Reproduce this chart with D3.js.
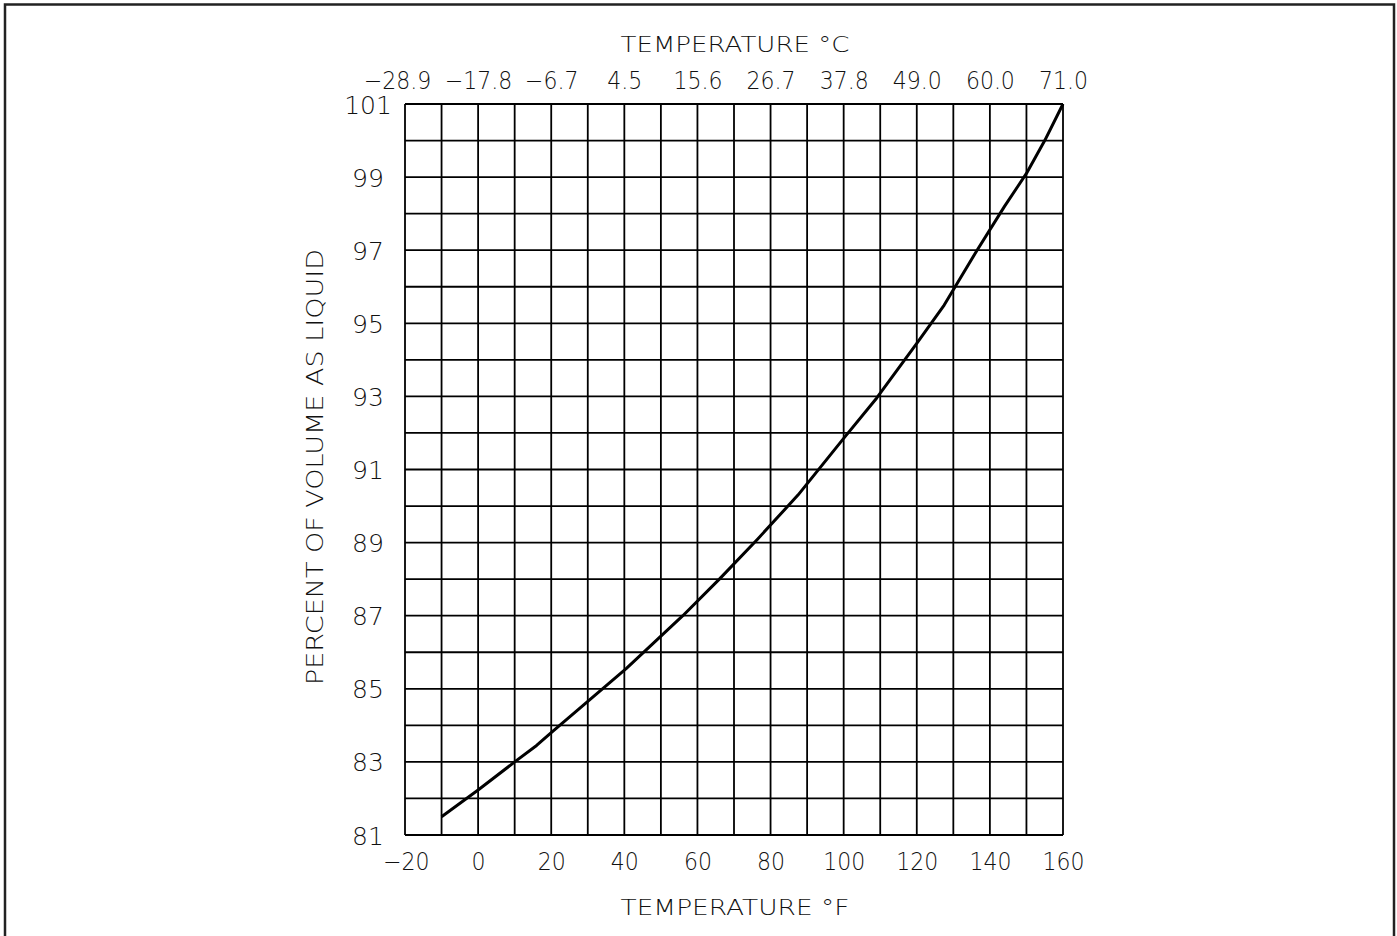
<!DOCTYPE html>
<html>
<head>
<meta charset="utf-8">
<script src="https://cdn.jsdelivr.net/npm/d3@7"></script>
<style>
  html, body { margin: 0; padding: 0; background: #fff; }
  svg { display: block; }
  text { font-family: "DejaVu Sans", sans-serif; font-weight: 200; fill: #111; }
</style>
</head>
<body>
<script>
// ---- data ----
const tempF = [-10, 0, 10, 16, 20, 40.5, 56, 66, 76.5, 87.5, 100, 109, 120, 127.5, 136.5, 144, 150, 155, 160];
const volumePct = [81.5, 82.23, 83.0, 83.45, 83.8, 85.55, 87.0, 88.0, 89.1, 90.3, 91.85, 92.95, 94.45, 95.5, 97.0, 98.2, 99.1, 100.0, 101.0];
const fTicks = [-20, 0, 20, 40, 60, 80, 100, 120, 140, 160];
const cTickLabels = ["−28.9", "−17.8", "−6.7", "4.5", "15.6", "26.7", "37.8", "49.0", "60.0", "71.0"];
const yTicks = [81, 83, 85, 87, 89, 91, 93, 95, 97, 99, 101];
const xTitle = "TEMPERATURE °F";
const topTitle = "TEMPERATURE °C";
const yTitle = "PERCENT OF VOLUME AS LIQUID";

const W = 1397, H = 936;
const svg = d3.select("body").append("svg").attr("width", W).attr("height", H);

// page frame
svg.append("rect").attr("x", 5).attr("y", 4.5).attr("width", 1389).attr("height", 960)
  .attr("fill", "none").attr("stroke", "#222").attr("stroke-width", 2.5);

const L = 405, R = 1063, T = 104, B = 835;
const x = d3.scaleLinear().domain([-20, 160]).range([L, R]);
const y = d3.scaleLinear().domain([81, 101]).range([B, T]);

// grid
const g = svg.append("g");
g.selectAll("line.v").data(d3.range(-20, 161, 10)).join("line")
  .attr("x1", d => x(d)).attr("x2", d => x(d)).attr("y1", T).attr("y2", B)
  .attr("stroke", "#000").attr("stroke-width", 1.8);
g.selectAll("line.h").data(d3.range(81, 101.5, 1)).join("line")
  .attr("y1", d => y(d)).attr("y2", d => y(d)).attr("x1", L).attr("x2", R)
  .attr("stroke", "#000").attr("stroke-width", 1.8);

const SQ = "scale(0.88,1)";

// bottom axis labels
const bottomAxis = d3.axisBottom(x).tickValues(fTicks).tickSize(0).tickPadding(0)
  .tickFormat(d => d < 0 ? "−" + Math.abs(d) : String(d));
const ba = svg.append("g").attr("transform", `translate(0,${B})`).call(bottomAxis);
ba.select(".domain").remove();
ba.selectAll("text").attr("dy", null).attr("y", 35).attr("transform", SQ).style("font-size", "25px");
ba.selectAll("text").filter((d, i) => i === 0).attr("x", 1);

// top axis labels (°C)
const topAxis = d3.axisTop(x).tickValues(fTicks).tickSize(0).tickPadding(0)
  .tickFormat((d, i) => cTickLabels[i]);
const ta = svg.append("g").attr("transform", `translate(0,${T})`).call(topAxis);
ta.select(".domain").remove();
ta.selectAll("text").attr("dy", null).attr("y", -15).attr("transform", SQ).style("font-size", "25px");
ta.selectAll("text").filter((d, i) => i === 0).attr("x", -9);

// left axis labels
const leftAxis = d3.axisLeft(y).tickValues(yTicks).tickSize(0).tickPadding(0);
const la = svg.append("g").attr("transform", `translate(${L - 37},0)`).call(leftAxis);
la.select(".domain").remove();
la.selectAll("text").attr("x", 0).attr("dy", "0.36em").attr("text-anchor", "middle").style("font-size", "25px");

// titles
svg.append("text").attr("x", 735).attr("y", 52).attr("text-anchor", "middle")
  .style("font-size", "21px").attr("textLength", 229).attr("lengthAdjust", "spacingAndGlyphs").text(topTitle);
svg.append("text").attr("x", 735).attr("y", 915).attr("text-anchor", "middle")
  .style("font-size", "21px").attr("textLength", 229).attr("lengthAdjust", "spacingAndGlyphs").text(xTitle);
svg.append("text").attr("transform", "translate(323,467) rotate(-90)").attr("text-anchor", "middle")
  .style("font-size", "23px").attr("textLength", 436).attr("lengthAdjust", "spacingAndGlyphs").text(yTitle);

// curve
const pts = tempF.map((t, i) => [t, volumePct[i]]);
svg.append("path").datum(pts)
  .attr("d", d3.line().x(d => x(d[0])).y(d => y(d[1])))
  .attr("fill", "none").attr("stroke", "#000").attr("stroke-width", 3).attr("stroke-linejoin", "round");
</script>
</body>
</html>
